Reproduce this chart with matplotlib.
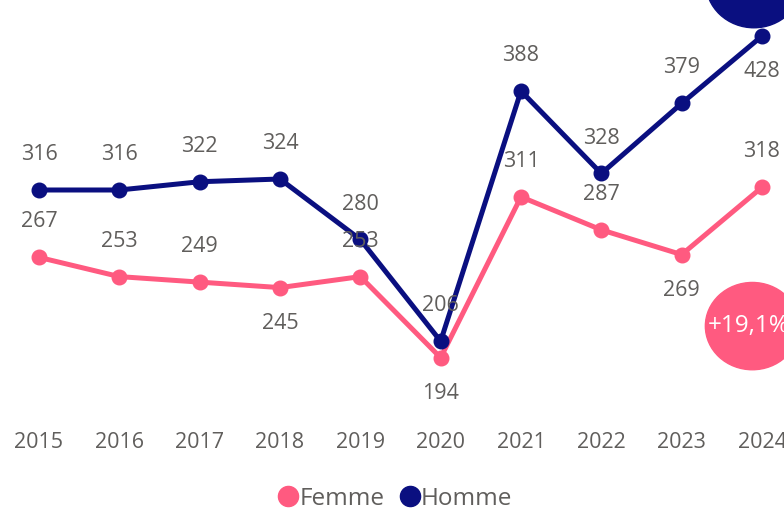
import matplotlib.pyplot as plt
from matplotlib.patches import Ellipse
from matplotlib.lines import Line2D

plt.rcParams['font.family'] = ['Open Sans', 'DejaVu Sans']

years = [2015, 2016, 2017, 2018, 2019, 2020, 2021, 2022, 2023, 2024]
femme = [267, 253, 249, 245, 253, 194, 311, 287, 269, 318]
homme = [316, 316, 322, 324, 280, 206, 388, 328, 379, 428]
# label above (+1) or below (-1) the point
femme_pos = [1, 1, 1, -1, 1, -1, 1, 1, -1, 1]
homme_pos = [1, 1, 1, 1, 1, 1, 1, 1, 1, -1]
change_femme = "+19,1%"

pink = '#FF5A80'
navy = '#0A0F80'
grey = '#605E5C'

fig = plt.figure(figsize=(7.84, 5.16), dpi=100)
ax = fig.add_axes([0, 96 / 516, 1, 420 / 516])

ax.plot(years, homme, color=navy, lw=3.6, marker='o', ms=10.5, zorder=3)
ax.plot(years, femme, color=pink, lw=3.6, marker='o', ms=10.5, zorder=2)

for vals, pos in [(homme, homme_pos), (femme, femme_pos)]:
    for x, v, p in zip(years, vals, pos):
        ax.annotate(str(v), (x, v), xytext=(0, 25.5 * p), textcoords='offset points',
                    ha='center', va='center', fontsize=15.5, color=grey, zorder=5)

# bubbles at the right edge
ax.add_patch(Ellipse((2023.88, 217), 1.17, 63.5, color=pink, zorder=6, clip_on=False))
ax.text(2023.83, 217, change_femme, ha='center', va='center', color='white',
        fontsize=17.5, zorder=7)
ax.add_patch(Ellipse((2023.9, 467), 1.2, 66, color=navy, zorder=6, clip_on=False))

ax.set_xlim(2014.515, 2024.274)
ax.set_ylim(148.7, 454.2)
ax.set_xticks(years)
ax.set_xticklabels([str(y) for y in years], fontsize=15.5, color=grey)
ax.tick_params(axis='x', length=0, pad=8.5)
ax.set_yticks([])
for s in ax.spines.values():
    s.set_visible(False)

handles = [Line2D([], [], ls='none', marker='o', ms=14.5, color=pink),
           Line2D([], [], ls='none', marker='o', ms=14.5, color=navy)]
fig.legend(handles, ['Femme', 'Homme'], loc='center', bbox_to_anchor=(396 / 784, 1 - 499 / 516),
           ncol=2, frameon=False, fontsize=17.5, labelcolor=grey,
           handlelength=0.7, handletextpad=0.1, columnspacing=0.7)

fig.savefig('out.png', dpi=100)
